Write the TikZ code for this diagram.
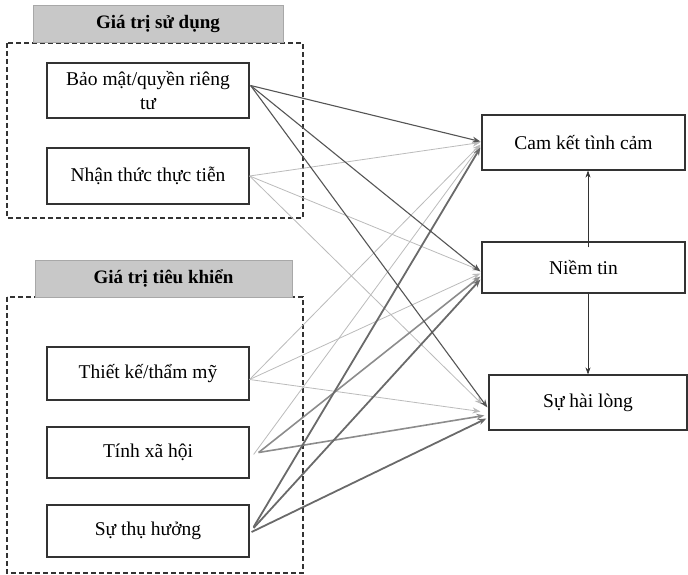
\documentclass[tikz,border=0pt]{standalone}
\usepackage{fontspec}
\setmainfont{Liberation Serif}
\usetikzlibrary{arrows.meta,calc}
\definecolor{boxline}{HTML}{333333}
\definecolor{hdrfill}{HTML}{C8C8C8}
\definecolor{hdrline}{HTML}{A8A8A8}
\definecolor{cdark}{HTML}{555555}
\definecolor{clight}{HTML}{BBBBBB}
\definecolor{cmed}{HTML}{8C8C8C}
\definecolor{cthick}{HTML}{6A6A6A}
\tikzset{
  varbox/.style={draw=boxline,line width=1.2pt,fill=white,minimum width=202pt,inner sep=2pt,align=center,font=\fontsize{19.5}{24}\selectfont},
  hdrbox/.style={draw=hdrline,line width=0.8pt,fill=hdrfill,minimum height=37pt,font=\fontsize{19}{22}\selectfont\bfseries},
  groupbox/.style={draw=boxline,dashed,line width=1.1pt,dash pattern=on 5pt off 3pt},
  arr/.style={-{Stealth[length=8pt,width=6pt]}},
  adark/.style={arr,draw=cdark,line width=1.1pt},
  alight/.style={arr,draw=clight,line width=0.8pt},
  amed/.style={arr,draw=cmed,line width=1.6pt},
  athick/.style={arr,draw=cthick,line width=1.8pt},
  avert/.style={draw=boxline,line width=0.5pt,-{Stealth[length=7pt,width=5pt]}}
}
\begin{document}
\begin{tikzpicture}[x=1pt,y=-1pt]
\useasboundingbox (0,0) rectangle (688,575);
% group boxes
\draw[groupbox] (7,43) rectangle (303,218);
\draw[groupbox] (7,297) rectangle (303,573);
\node[hdrbox,minimum width=250pt] (h1) at (158,23.5) {Giá trị sử dụng};
\node[hdrbox,minimum width=257pt] (h2) at (163.5,278.5) {Giá trị tiêu khiển};
% left boxes
\node[varbox,minimum height=55pt] (b1) at (148,90.5) {Bảo mật/quyền riêng\\tư};
\node[varbox,minimum height=56pt] (b2) at (148,176) {Nhận thức thực tiễn};
\node[varbox,minimum height=53pt] (b3) at (148,373.5) {Thiết kế/thẩm mỹ};
\node[varbox,minimum height=51pt] (b4) at (148,452.5) {Tính xã hội};
\node[varbox,minimum height=52pt] (b5) at (148,531) {Sự thụ hưởng};
% right boxes
\node[varbox,minimum width=203pt,minimum height=55pt] (r1) at (583.5,142.5) {Cam kết tình cảm};
\node[varbox,minimum width=203pt,minimum height=51pt] (r2) at (583.5,267.5) {Niềm tin};
\node[varbox,minimum width=198pt,minimum height=55pt] (r3) at (588,402.5) {Sự hài lòng};
% light arrows
\draw[alight] (b2.east) -- ([xshift=-1pt]r1.west);
\draw[alight] (b2.east) -- ([xshift=-1pt,yshift=-3pt]r2.west);
\draw[alight] (b2.east) -- ([xshift=-6pt,yshift=-2pt]r3.west);
\draw[alight] ([yshift=-6pt]b3.east) -- ([xshift=-1pt,yshift=-2pt]r1.west);
\draw[alight] ([yshift=-6pt]b3.east) -- ([xshift=-1pt,yshift=-6pt]r2.west);
\draw[alight] ([yshift=-6pt]b3.east) -- ([xshift=-8pt,yshift=-9pt]r3.west);
\draw[alight] ([xshift=4pt,yshift=-2pt]b4.east) -- ([xshift=-1pt,yshift=-3pt]r1.west);
% medium arrows
\draw[amed] ([xshift=9pt]b4.east) -- ([xshift=-1pt,yshift=-9pt]r2.west);
\draw[amed] ([xshift=9pt]b4.east) -- ([xshift=-4pt,yshift=-13pt]r3.west);
% thick arrows
\draw[athick] ([xshift=4pt,yshift=4pt]b5.east) -- ([xshift=-1pt,yshift=-5pt]r1.west);
\draw[athick] ([xshift=4pt,yshift=3pt]b5.east) -- ([xshift=-1pt,yshift=-12pt]r2.west);
\draw[athick] ([xshift=2pt,yshift=-1pt]b5.east) -- ([xshift=-2pt,yshift=-16pt]r3.west);
% dark arrows
\draw[adark] ([xshift=1pt,yshift=5pt]b1.east) -- ([xshift=-1pt,yshift=1pt]r1.west);
\draw[adark] ([xshift=1pt,yshift=5pt]b1.east) -- ([xshift=-1pt,yshift=-4pt]r2.west);
\draw[adark] ([xshift=1pt,yshift=5pt]b1.east) -- ([xshift=-1pt,yshift=-5pt]r3.west);
% vertical arrows
\draw[avert] ([xshift=4.5pt,yshift=-6pt]r2.north) -- ([xshift=4.5pt]r1.south);
\draw[avert] (r2.south -| r3.north) -- (r3.north);
\end{tikzpicture}
\end{document}
